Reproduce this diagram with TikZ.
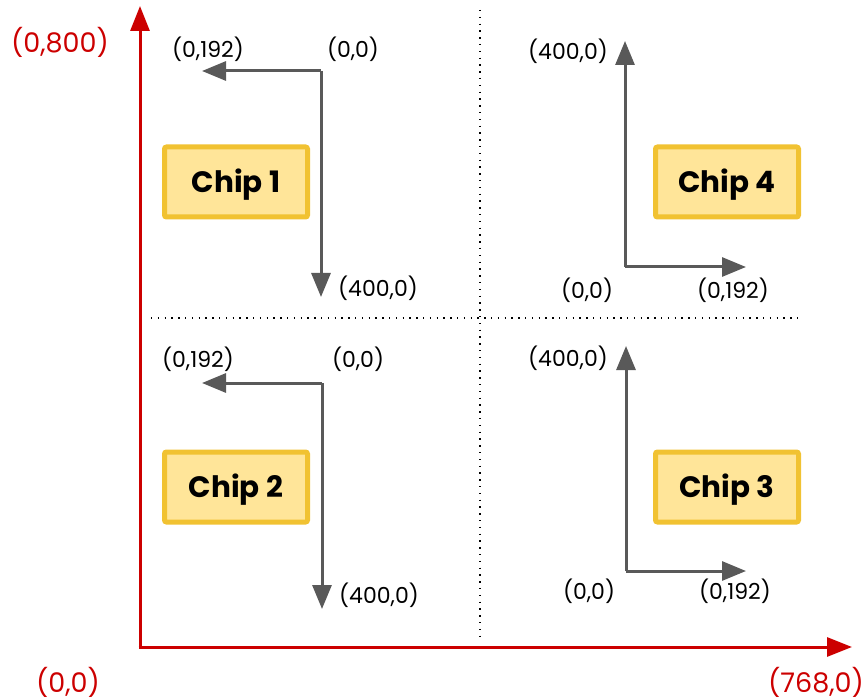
\documentclass[tikz,border=0pt]{standalone}
\usepackage{fontspec}
\setmainfont{Poppins}
\usetikzlibrary{arrows.meta}
\definecolor{axisred}{HTML}{CC0000}
\definecolor{arrgray}{HTML}{595959}
\definecolor{chipfill}{HTML}{FFE599}
\definecolor{chipedge}{HTML}{F1C232}
\tikzset{
  axis/.style={draw=axisred, line width=3pt, -{Triangle[length=25pt,width=19pt]}},
  axislabel/.style={text=axisred, font=\fontsize{27}{30}\selectfont, inner sep=0pt},
  coordarrow/.style={draw=arrgray, line width=3pt, -{Triangle[length=24pt,width=19pt]}},
  coordlabel/.style={text=black, font=\fontsize{22}{25}\selectfont, inner sep=0pt},
  chip/.style={draw=chipedge, fill=chipfill, line width=5pt, rounded corners=2pt,
    minimum width=143pt, minimum height=70pt, text height=24pt, text depth=3pt,
    font=\bfseries\fontsize{29.5}{32}\selectfont},
  divider/.style={draw=black, line width=1.4pt, dash pattern=on 1.4pt off 5.4pt},
}
\begin{document}
\begin{tikzpicture}[x=1pt,y=-1pt]
\useasboundingbox (0,0) rectangle (866,700);
% dividers
\coordinate (vt) at (480,10);
\coordinate (vb) at (480,637);
\coordinate (hl) at (151,318);
\coordinate (hr) at (803,318);
\draw[divider] (vt) -- (vb);
\draw[divider] (hl) -- (hr);
% axes
\coordinate (O) at (140,647);
\coordinate (ytip) at (140,6);
\coordinate (xtip) at (852,647);
\draw[axis] ([xshift=0pt,yshift=1.5pt]O) -- (ytip);
\draw[axis] ([xshift=-1.5pt]O) -- (xtip);
\node[axislabel] (lymax) at (60,42) {(0,800)};
\node[axislabel] (lorig) at (68,682) {(0,0)};
\node[axislabel] (lxmax) at (816,682) {(768,0)};
% chips
\node[chip] (c1) at (236,182) {Chip 1};
\node[chip] (c2) at (236,487) {Chip 2};
\node[chip] (c4) at (727,182) {Chip 4};
\node[chip] (c3) at (727,487) {Chip 3};
% quadrant 1
\coordinate (q1o) at (321,71);
\coordinate (q1h) at (202,71);
\coordinate (q1v) at (321,297);
\draw[coordarrow] (q1o) -- (q1h);
\draw[coordarrow] (q1o) -- (q1v);
\node[coordlabel] (q1lo) at (353,49) {(0,0)};
\node[coordlabel] (q1lh) at (208,49) {(0,192)};
\node[coordlabel] (q1lv) at (378,288) {(400,0)};
% quadrant 2
\coordinate (q2o) at (322,383);
\coordinate (q2h) at (202,383);
\coordinate (q2v) at (322,609);
\draw[coordarrow] (q2o) -- (q2h);
\draw[coordarrow] (q2o) -- (q2v);
\node[coordlabel] (q2lo) at (358,359) {(0,0)};
\node[coordlabel] (q2lh) at (198,359) {(0,192)};
\node[coordlabel] (q2lv) at (379,595) {(400,0)};
% quadrant 4
\coordinate (q4o) at (625,267);
\coordinate (q4v) at (625,41);
\coordinate (q4h) at (746,267);
\draw[coordarrow] (q4o) -- (q4v);
\draw[coordarrow] (q4o) -- (q4h);
\node[coordlabel] (q4lv) at (568,51) {(400,0)};
\node[coordlabel] (q4lo) at (587,290) {(0,0)};
\node[coordlabel] (q4lh) at (733,290) {(0,192)};
% quadrant 3
\coordinate (q3o) at (626,571);
\coordinate (q3v) at (626,346);
\coordinate (q3h) at (746,571);
\draw[coordarrow] (q3o) -- (q3v);
\draw[coordarrow] (q3o) -- (q3h);
\node[coordlabel] (q3lv) at (568,358) {(400,0)};
\node[coordlabel] (q3lo) at (589,591) {(0,0)};
\node[coordlabel] (q3lh) at (735,591) {(0,192)};
\end{tikzpicture}
\end{document}
